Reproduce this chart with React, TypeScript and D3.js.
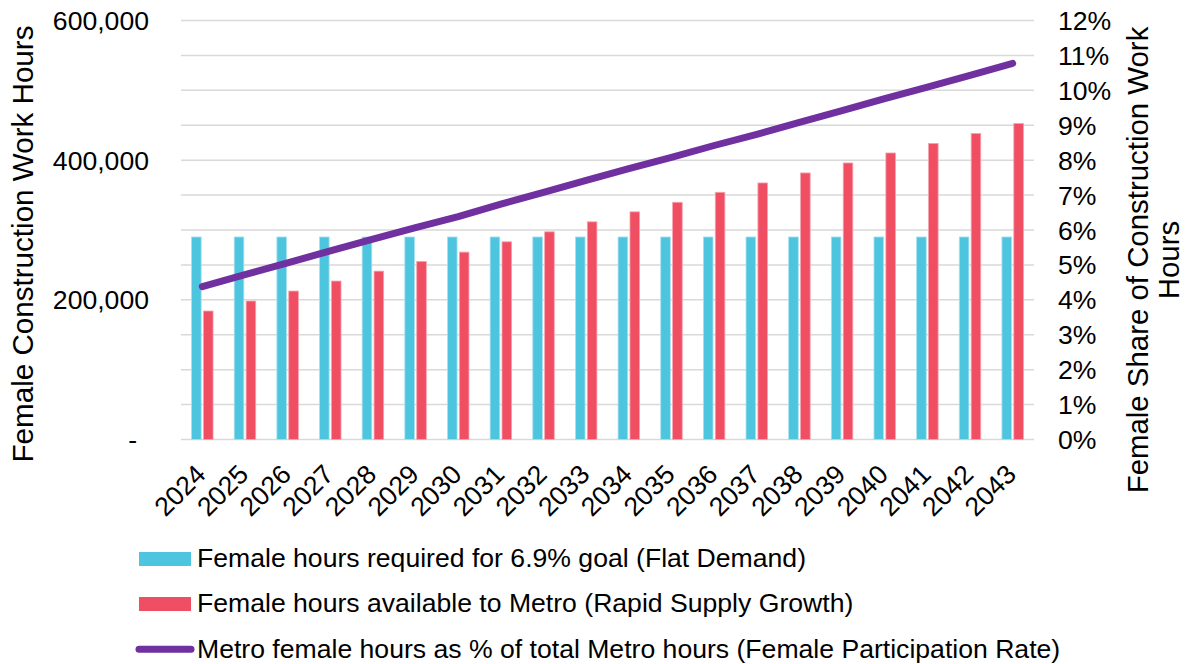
import React from "react";
import * as d3 from "d3";

const years = ["2024","2025","2026","2027","2028","2029","2030","2031","2032","2033","2034","2035","2036","2037","2038","2039","2040","2041","2042","2043"];
const flatDemand = [290000,290000,290000,290000,290000,290000,290000,290000,290000,290000,290000,290000,290000,290000,290000,290000,290000,290000,290000,290000];
const supplyGrowth = [184000,198300,212600,226900,241100,255000,268300,283100,297400,311700,326000,339700,354000,367400,381700,396000,410300,424000,438300,452600];
const femaleShare = [4.38,4.72,5.06,5.40,5.74,6.07,6.38,6.74,7.08,7.42,7.76,8.08,8.42,8.74,9.08,9.42,9.76,10.09,10.43,10.77];

const leftTicks = [0, 200000, 400000, 600000];
const leftTickLabels = ["-", "200,000", "400,000", "600,000"];
const gridValues = [0,50000,100000,150000,200000,250000,300000,350000,400000,450000,500000,550000,600000];
const rightTicks = [0,1,2,3,4,5,6,7,8,9,10,11,12];

const legendLabels = [
  "Female hours required for 6.9% goal (Flat Demand)",
  "Female hours available to Metro (Rapid Supply Growth)",
  "Metro female hours as % of total Metro hours (Female Participation Rate)",
];

const BLUE = "#4EC5DE";
const RED = "#F04E63";
const PURPLE = "#7030A0";
const GRID = "#d9d9d9";
const FONT = "'Liberation Sans', Arial, sans-serif";
const FS = 26.6;

export default function App() {
  const W = 1186, H = 664;
  const left = 181, right = 1034, top = 20.5, bottom = 439.5;

  const x = d3.scaleBand<string>().domain(years).range([left, right]).paddingInner(0).paddingOuter(0);
  const yL = d3.scaleLinear().domain([0, 600000]).range([bottom, top]);
  const yR = d3.scaleLinear().domain([0, 12]).range([bottom, top]);

  const bw = x.bandwidth() * 0.225;
  const gap = 1.15;
  const cx = (y: string) => (x(y) as number) + x.bandwidth() / 2;

  const line = d3.line<number>()
    .x((_, i) => cx(years[i]))
    .y((d) => yR(d));

  return (
    <svg width={W} height={H} style={{ position: "absolute", left: 0, top: 0, background: "#fff" }} fontFamily={FONT}>
      {gridValues.map((v) => (
        <line key={v} x1={left} x2={right} y1={yL(v)} y2={yL(v)} stroke={GRID} strokeWidth={1.5} />
      ))}
      {years.map((yr, i) => (
        <g key={yr}>
          <rect x={cx(yr) - gap - bw} y={yL(flatDemand[i])} width={bw} height={yL(0) - yL(flatDemand[i])}
            fill={BLUE} stroke="#a6e1ee" strokeWidth={0.8} />
          <rect x={cx(yr) + gap} y={yL(supplyGrowth[i])} width={bw} height={yL(0) - yL(supplyGrowth[i])}
            fill={RED} stroke="#f7a3ae" strokeWidth={0.8} />
        </g>
      ))}
      <path d={line(femaleShare) || ""} fill="none" stroke={PURPLE} strokeWidth={7} strokeLinecap="round" strokeLinejoin="round" />

      {leftTicks.map((v, i) => (
        <text key={v} x={149} dx={v === 0 ? -12 : 0} y={yL(v)} dy="0.36em" textAnchor="end" fontSize={FS} fill="#000">
          {leftTickLabels[i]}
        </text>
      ))}
      {rightTicks.map((v) => (
        <text key={v} x={1058} y={yR(v)} dy="0.36em" textAnchor="start" fontSize={FS} fill="#000">
          {v + "%"}
        </text>
      ))}
      {years.map((yr) => (
        <text key={yr} transform={`translate(${cx(yr) + 5},${476}) rotate(-45)`} textAnchor="end" fontSize={FS} fill="#000">
          {yr}
        </text>
      ))}
      <text transform={`translate(33,244) rotate(-90)`} textAnchor="middle" fontSize={29.6} fill="#000">
        Female Construction Work Hours
      </text>
      <text transform={`translate(1148,260) rotate(-90)`} textAnchor="middle" fontSize={29.4} fill="#000">
        <tspan x={0} dy={0}>Female Share of Construction Work</tspan>
        <tspan x={0} dy={31}>Hours</tspan>
      </text>

      <rect x={139} y={552} width={52} height={14} fill={BLUE} />
      <text x={197} y={567} fontSize={FS} fill="#000">{legendLabels[0]}</text>
      <rect x={139} y={597} width={52} height={14} fill={RED} />
      <text x={197} y={612} fontSize={FS} fill="#000">{legendLabels[1]}</text>
      <line x1={139} x2={191} y1={649.3} y2={649.3} stroke={PURPLE} strokeWidth={7} strokeLinecap="round" />
      <text x={197} y={658} fontSize={FS} fill="#000">{legendLabels[2]}</text>
    </svg>
  );
}
